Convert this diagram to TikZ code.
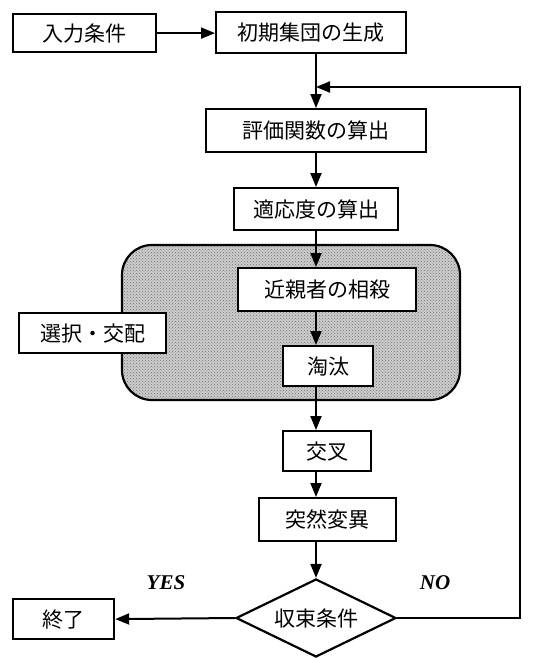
\documentclass[tikz,border=0pt]{standalone}
\usepackage{fontspec}
\newfontfamily\jp{Noto Sans CJK JP}
\newfontfamily\lat{Liberation Serif}
\usetikzlibrary{arrows.meta,shapes.geometric,patterns}
\begin{document}
\begin{tikzpicture}[x=1pt,y=-1pt,
  box/.style={draw,line width=2.2pt,fill=white,font=\jp\fontsize{21}{21}\selectfont,inner sep=0pt,anchor=north west},
  flow/.style={line width=2pt,-{Triangle[length=14pt,width=11pt]}},
  lbl/.style={font=\lat\bfseries\itshape\fontsize{21}{21}\selectfont}]
\useasboundingbox (0,0) rectangle (544,659);
\fill[white] (0,0) rectangle (544,659);
% grey region
\draw[line width=2.2pt,fill=gray!40,rounded corners=30pt] (122,245) rectangle (460,400);
\fill[pattern=crosshatch dots,pattern color=black!55,rounded corners=30pt] (123,246) rectangle (459,399);
\node[box,minimum width=143pt,minimum height=38pt] (in) at (12,13) {入力条件};
\node[box,minimum width=190pt,minimum height=41pt] (init) at (215,11) {初期集団の生成};
\node[box,minimum width=220pt,minimum height=43pt] (eval) at (205,108) {評価関数の算出};
\node[box,minimum width=164pt,minimum height=42pt] (fit) at (233,187) {適応度の算出};
\node[box,minimum width=178pt,minimum height=43pt] (kin) at (237,267) {近親者の相殺};
\node[box,minimum width=147pt,minimum height=40pt] (sel) at (18,312) {選択・交配};
\node[box,minimum width=90pt,minimum height=40pt] (cull) at (282,345) {淘汰};
\node[box,minimum width=88pt,minimum height=40pt] (cross) at (282,430) {交叉};
\node[box,minimum width=137pt,minimum height=43pt] (mut) at (258,497) {突然変異};
\node[draw,line width=2.2pt,fill=white,diamond,aspect=2.05,inner sep=0pt,minimum width=160pt,minimum height=78pt,font=\jp\fontsize{21}{21}\selectfont] (conv) at (316,618) {収束条件};
\node[box,minimum width=101pt,minimum height=40pt] (end) at (12,598) {終了};
\node[lbl] (yes) at (166,583) {YES};
\node[lbl] (no) at (435,583) {NO};
\coordinate (j) at (316,87);
\coordinate (c1) at (520,618);
\coordinate (c2) at (520,87);
\draw[flow] (in.east) -- (in.east -| init.west);
\draw[line width=2pt] (316,52) -- (j);
\draw[flow] (j) -- (316,108);
\draw[flow] (316,151) -- (316,187);
\draw[flow] (316,229) -- (316,267);
\draw[flow] (316,310) -- (316,345);
\draw[flow] (316,385) -- (316,430);
\draw[flow] (316,470) -- (316,497);
\draw[flow] (316,540) -- (conv.north);
\draw[flow] (conv.west) -- (end.east);
\draw[flow] (conv.east) -- (c1) -- (c2) -- (j);
\end{tikzpicture}
\end{document}
